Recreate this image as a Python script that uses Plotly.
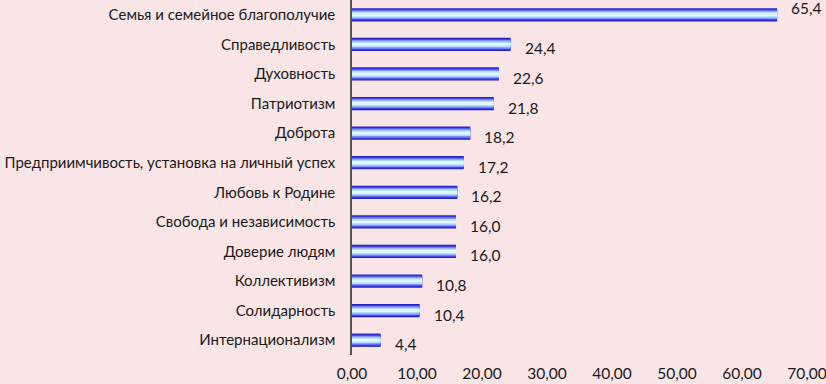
import plotly.graph_objects as go

categories = [
    "Семья и семейное благополучие",
    "Справедливость",
    "Духовность",
    "Патриотизм",
    "Доброта",
    "Предприимчивость, установка на личный успех",
    "Любовь к Родине",
    "Свобода и независимость",
    "Доверие людям",
    "Коллективизм",
    "Солидарность",
    "Интернационализм",
]
values = [65.4, 24.4, 22.6, 21.8, 18.2, 17.2, 16.2, 16.0, 16.0, 10.8, 10.4, 4.4]
x_ticks = [0, 10, 20, 30, 40, 50, 60, 70]

# stepped gradient layers (outer -> inner)
layers = [
    (0.45, "#2222C4"),
    (0.37, "#4646EC"),
    (0.29, "#8494F6"),
    (0.20, "#B6DAFD"),
    (0.10, "#E0F8FF"),
]

FONT = "Lato, Calibri, sans-serif"

fig = go.Figure()
for i, (w, c) in enumerate(layers):
    fig.add_trace(go.Bar(
        x=values, y=categories, orientation="h", width=w,
        marker=dict(color=c, line=dict(width=0)),
        hoverinfo="skip" if i else None, showlegend=False,
    ))

vmax = max(values)
for v, cat in zip(values, categories):
    big = v == vmax
    fig.add_annotation(
        x=v, y=cat, text=f"{v:.1f}".replace(".", ","), showarrow=False,
        xanchor="left", xshift=12, yshift=7 if big else -4,
        font=dict(family=FONT, size=15.5, color="#1a1a1a"),
    )

fig.update_layout(
    barmode="overlay",
    width=826, height=384,
    margin=dict(l=352, r=19, t=0, b=29, autoexpand=False),
    paper_bgcolor="#F9E5E5", plot_bgcolor="#F9E5E5",
    separators=", ",
    font=dict(family=FONT, size=15.5, color="#1a1a1a"),
    xaxis=dict(range=[0, 70], tickvals=x_ticks, tickformat=".2f",
               showgrid=False, zeroline=False, showline=False, ticks="",
               ticklabelstandoff=7, automargin=False,
               ticklabeloverflow="allow",
               tickfont=dict(size=15.5)),
    yaxis=dict(range=[11.5, -0.5], showgrid=False, zeroline=False,
               showline=True, linecolor="#555555", linewidth=1.5,
               ticks="", ticklabelstandoff=12, automargin=False,
               tickfont=dict(size=15)),
)

fig.write_html("out.html", config={"displayModeBar": False},
               post_script="document.body.style.margin='0';document.body.style.overflow='hidden';")
